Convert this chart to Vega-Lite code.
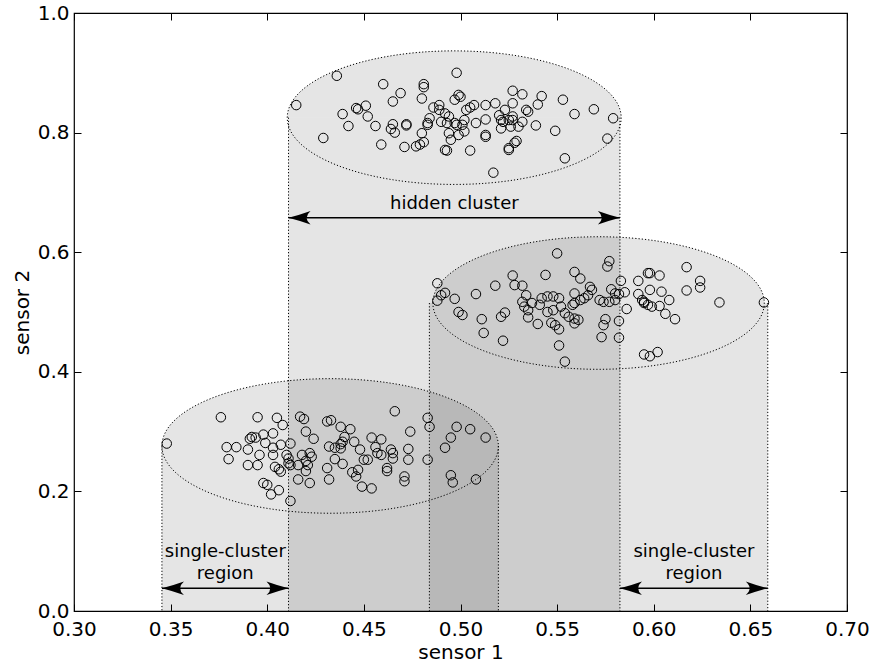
{
  "$schema": "https://vega.github.io/schema/vega-lite/v6.json",
  "width": 773,
  "height": 598,
  "autosize": {"type": "none"},
  "padding": {"left": 74, "top": 13, "right": 27, "bottom": 53},
  "background": "white",
  "config": {
    "font": "DejaVu Sans",
    "view": {"stroke": "black", "strokeWidth": 1.2},
    "axis": {"grid": false, "domain": false, "labelFlush": false, "labelOverlap": false, "labelBound": false, "tickColor": "black", "labelColor": "black", "titleColor": "black", "tickWidth": 1}
  },
  "resolve": {"axis": {"x": "independent", "y": "independent"}},
  "datasets": {
    "cyl": [
      {"name": "A", "xl": 0.3455, "xr": 0.5196, "xc": 0.43255, "yc": 0.276},
      {"name": "B", "xl": 0.411, "xr": 0.5825, "xc": 0.49675, "yc": 0.825},
      {"name": "C", "xl": 0.4839, "xr": 0.659, "xc": 0.57145, "yc": 0.515}
    ],
    "arrows": [
      {"x1": 0.411, "x2": 0.5825, "y": 0.6577},
      {"x1": 0.3455, "x2": 0.411, "y": 0.038},
      {"x1": 0.5825, "x2": 0.659, "y": 0.038}
    ],
    "labels": [
      {"t": "hidden cluster", "x": 0.4968, "y": 0.673},
      {"t": "single-cluster", "x": 0.3783, "y": 0.09},
      {"t": "region", "x": 0.3783, "y": 0.053},
      {"t": "single-cluster", "x": 0.6208, "y": 0.0905},
      {"t": "region", "x": 0.6208, "y": 0.0535}
    ],
    "pts": [
      {"x":0.436,"y":0.895},{"x":0.415,"y":0.846},{"x":0.460,"y":0.881},{"x":0.481,"y":0.881},{"x":0.481,"y":0.876},{"x":0.469,"y":0.866},{"x":0.465,"y":0.852},{"x":0.480,"y":0.857},{"x":0.451,"y":0.845},{"x":0.446,"y":0.841},{"x":0.447,"y":0.839},{"x":0.439,"y":0.831},{"x":0.452,"y":0.827},{"x":0.442,"y":0.811},{"x":0.456,"y":0.811},{"x":0.465,"y":0.814},{"x":0.464,"y":0.806},{"x":0.466,"y":0.800},{"x":0.472,"y":0.814},{"x":0.472,"y":0.812},{"x":0.429,"y":0.791},{"x":0.459,"y":0.780},{"x":0.471,"y":0.776},{"x":0.477,"y":0.777},{"x":0.479,"y":0.780},{"x":0.481,"y":0.784},{"x":0.480,"y":0.799},{"x":0.483,"y":0.813},{"x":0.483,"y":0.816},{"x":0.484,"y":0.824},{"x":0.486,"y":0.842},{"x":0.489,"y":0.846},{"x":0.489,"y":0.838},{"x":0.492,"y":0.832},{"x":0.494,"y":0.827},{"x":0.490,"y":0.818},{"x":0.493,"y":0.816},{"x":0.494,"y":0.799},{"x":0.495,"y":0.788},{"x":0.492,"y":0.771},{"x":0.493,"y":0.770},{"x":0.498,"y":0.900},{"x":0.497,"y":0.855},{"x":0.499,"y":0.863},{"x":0.500,"y":0.860},{"x":0.527,"y":0.870},{"x":0.532,"y":0.864},{"x":0.542,"y":0.861},{"x":0.540,"y":0.847},{"x":0.518,"y":0.849},{"x":0.513,"y":0.846},{"x":0.507,"y":0.846},{"x":0.505,"y":0.842},{"x":0.503,"y":0.838},{"x":0.527,"y":0.849},{"x":0.523,"y":0.838},{"x":0.534,"y":0.838},{"x":0.535,"y":0.835},{"x":0.553,"y":0.855},{"x":0.559,"y":0.831},{"x":0.569,"y":0.839},{"x":0.579,"y":0.824},{"x":0.513,"y":0.822},{"x":0.508,"y":0.816},{"x":0.502,"y":0.821},{"x":0.501,"y":0.813},{"x":0.498,"y":0.813},{"x":0.497,"y":0.816},{"x":0.520,"y":0.829},{"x":0.521,"y":0.821},{"x":0.522,"y":0.818},{"x":0.525,"y":0.821},{"x":0.527,"y":0.827},{"x":0.527,"y":0.821},{"x":0.532,"y":0.818},{"x":0.521,"y":0.807},{"x":0.526,"y":0.810},{"x":0.530,"y":0.810},{"x":0.539,"y":0.812},{"x":0.549,"y":0.803},{"x":0.502,"y":0.802},{"x":0.499,"y":0.796},{"x":0.513,"y":0.796},{"x":0.513,"y":0.793},{"x":0.529,"y":0.786},{"x":0.528,"y":0.783},{"x":0.525,"y":0.774},{"x":0.525,"y":0.771},{"x":0.505,"y":0.770},{"x":0.576,"y":0.790},{"x":0.554,"y":0.757},{"x":0.517,"y":0.733},
      {"x":0.550,"y":0.598},{"x":0.488,"y":0.548},{"x":0.492,"y":0.532},{"x":0.490,"y":0.528},{"x":0.488,"y":0.519},{"x":0.497,"y":0.522},{"x":0.508,"y":0.530},{"x":0.518,"y":0.544},{"x":0.527,"y":0.561},{"x":0.528,"y":0.545},{"x":0.532,"y":0.544},{"x":0.544,"y":0.562},{"x":0.559,"y":0.567},{"x":0.562,"y":0.556},{"x":0.567,"y":0.542},{"x":0.568,"y":0.537},{"x":0.534,"y":0.528},{"x":0.499,"y":0.500},{"x":0.501,"y":0.495},{"x":0.511,"y":0.488},{"x":0.523,"y":0.499},{"x":0.521,"y":0.492},{"x":0.512,"y":0.465},{"x":0.522,"y":0.452},{"x":0.532,"y":0.517},{"x":0.533,"y":0.509},{"x":0.537,"y":0.515},{"x":0.535,"y":0.503},{"x":0.535,"y":0.491},{"x":0.540,"y":0.480},{"x":0.542,"y":0.523},{"x":0.545,"y":0.526},{"x":0.548,"y":0.526},{"x":0.551,"y":0.523},{"x":0.541,"y":0.512},{"x":0.545,"y":0.500},{"x":0.548,"y":0.503},{"x":0.552,"y":0.509},{"x":0.547,"y":0.482},{"x":0.549,"y":0.478},{"x":0.551,"y":0.471},{"x":0.554,"y":0.498},{"x":0.556,"y":0.492},{"x":0.558,"y":0.512},{"x":0.559,"y":0.515},{"x":0.562,"y":0.520},{"x":0.564,"y":0.523},{"x":0.566,"y":0.528},{"x":0.559,"y":0.531},{"x":0.559,"y":0.489},{"x":0.561,"y":0.487},{"x":0.559,"y":0.481},{"x":0.551,"y":0.444},{"x":0.554,"y":0.417},{"x":0.572,"y":0.520},
      {"x":0.577,"y":0.585},{"x":0.576,"y":0.576},{"x":0.617,"y":0.575},{"x":0.597,"y":0.565},{"x":0.598,"y":0.565},{"x":0.603,"y":0.561},{"x":0.583,"y":0.552},{"x":0.592,"y":0.552},{"x":0.624,"y":0.552},{"x":0.624,"y":0.541},{"x":0.617,"y":0.536},{"x":0.604,"y":0.534},{"x":0.598,"y":0.537},{"x":0.578,"y":0.538},{"x":0.580,"y":0.531},{"x":0.582,"y":0.530},{"x":0.585,"y":0.533},{"x":0.574,"y":0.517},{"x":0.577,"y":0.517},{"x":0.580,"y":0.520},{"x":0.592,"y":0.530},{"x":0.594,"y":0.520},{"x":0.595,"y":0.517},{"x":0.595,"y":0.515},{"x":0.597,"y":0.512},{"x":0.608,"y":0.520},{"x":0.599,"y":0.509},{"x":0.603,"y":0.510},{"x":0.634,"y":0.516},{"x":0.657,"y":0.516},{"x":0.586,"y":0.505},{"x":0.606,"y":0.497},{"x":0.611,"y":0.488},{"x":0.575,"y":0.488},{"x":0.574,"y":0.478},{"x":0.582,"y":0.485},{"x":0.573,"y":0.458},{"x":0.582,"y":0.457},{"x":0.595,"y":0.429},{"x":0.598,"y":0.426},{"x":0.602,"y":0.433},
      {"x":0.348,"y":0.280},{"x":0.376,"y":0.324},{"x":0.395,"y":0.324},{"x":0.405,"y":0.323},{"x":0.408,"y":0.311},{"x":0.417,"y":0.325},{"x":0.419,"y":0.321},{"x":0.420,"y":0.300},{"x":0.424,"y":0.288},{"x":0.403,"y":0.297},{"x":0.398,"y":0.295},{"x":0.392,"y":0.291},{"x":0.391,"y":0.288},{"x":0.394,"y":0.290},{"x":0.399,"y":0.281},{"x":0.379,"y":0.274},{"x":0.384,"y":0.274},{"x":0.390,"y":0.270},{"x":0.407,"y":0.278},{"x":0.412,"y":0.280},{"x":0.403,"y":0.273},{"x":0.396,"y":0.261},{"x":0.403,"y":0.261},{"x":0.380,"y":0.254},{"x":0.390,"y":0.244},{"x":0.395,"y":0.244},{"x":0.410,"y":0.261},{"x":0.411,"y":0.255},{"x":0.411,"y":0.247},{"x":0.412,"y":0.244},{"x":0.418,"y":0.261},{"x":0.422,"y":0.264},{"x":0.423,"y":0.258},{"x":0.420,"y":0.251},{"x":0.416,"y":0.244},{"x":0.421,"y":0.244},{"x":0.404,"y":0.241},{"x":0.406,"y":0.237},{"x":0.407,"y":0.233},{"x":0.420,"y":0.234},{"x":0.416,"y":0.220},{"x":0.422,"y":0.214},{"x":0.398,"y":0.214},{"x":0.400,"y":0.211},{"x":0.402,"y":0.195},{"x":0.406,"y":0.202},{"x":0.412,"y":0.184},
      {"x":0.466,"y":0.334},{"x":0.433,"y":0.319},{"x":0.431,"y":0.317},{"x":0.438,"y":0.308},{"x":0.443,"y":0.304},{"x":0.483,"y":0.323},{"x":0.484,"y":0.308},{"x":0.474,"y":0.300},{"x":0.498,"y":0.308},{"x":0.505,"y":0.304},{"x":0.513,"y":0.290},{"x":0.495,"y":0.290},{"x":0.492,"y":0.273},{"x":0.440,"y":0.291},{"x":0.439,"y":0.283},{"x":0.454,"y":0.290},{"x":0.459,"y":0.287},{"x":0.445,"y":0.283},{"x":0.432,"y":0.275},{"x":0.435,"y":0.273},{"x":0.438,"y":0.272},{"x":0.438,"y":0.279},{"x":0.448,"y":0.270},{"x":0.456,"y":0.274},{"x":0.457,"y":0.264},{"x":0.459,"y":0.261},{"x":0.464,"y":0.270},{"x":0.465,"y":0.264},{"x":0.465,"y":0.255},{"x":0.473,"y":0.271},{"x":0.473,"y":0.253},{"x":0.483,"y":0.253},{"x":0.435,"y":0.254},{"x":0.439,"y":0.246},{"x":0.450,"y":0.253},{"x":0.452,"y":0.253},{"x":0.462,"y":0.239},{"x":0.462,"y":0.234},{"x":0.444,"y":0.232},{"x":0.446,"y":0.225},{"x":0.447,"y":0.236},{"x":0.431,"y":0.239},{"x":0.432,"y":0.220},{"x":0.449,"y":0.208},{"x":0.454,"y":0.205},{"x":0.471,"y":0.225},{"x":0.471,"y":0.217},{"x":0.495,"y":0.227},{"x":0.496,"y":0.215},{"x":0.508,"y":0.220}
    ]
  },
  "layer": [
    {
      "data": {"name": "cyl"},
      "mark": {"type": "rect", "fill": "black", "fillOpacity": 0.1, "strokeWidth": 0},
      "encoding": {
        "x": {"field": "xl", "type": "quantitative", "scale": {"domain": [0.3, 0.7], "nice": false, "zero": false},
              "axis": {"orient": "top", "values": [0.3, 0.35, 0.4, 0.45, 0.5, 0.55, 0.6, 0.65, 0.7], "labels": false, "title": null, "tickSize": -7}},
        "x2": {"field": "xr"},
        "y": {"field": "yc", "type": "quantitative", "scale": {"domain": [0, 1], "nice": false, "zero": false},
              "axis": {"orient": "right", "values": [0, 0.2, 0.4, 0.6, 0.8, 1.0], "labels": false, "title": null, "tickSize": -7}},
        "y2": {"datum": 0}
      }
    },
    {
      "data": {"name": "cyl"},
      "mark": {"type": "point", "shape": "M -1 0 A 1 0.4 0 0 1 1 0 Z", "filled": true, "fill": "black", "fillOpacity": 0.1, "strokeWidth": 0, "opacity": 1},
      "encoding": {
        "x": {"field": "xc", "type": "quantitative", "scale": {"domain": [0.3, 0.7], "nice": false, "zero": false}, "axis": null},
        "y": {"field": "yc", "type": "quantitative", "scale": {"domain": [0, 1], "nice": false, "zero": false}, "axis": null},
        "size": {"field": "name", "type": "ordinal", "scale": {"domain": ["A", "B", "C"], "range": [113165, 109826, 114515]}, "legend": null}
      }
    },
    {
      "data": {"name": "cyl"},
      "mark": {"type": "rule", "stroke": "black", "strokeWidth": 1, "strokeDash": [1.2, 2]},
      "encoding": {
        "x": {"field": "xl", "type": "quantitative", "scale": {"domain": [0.3, 0.7], "nice": false, "zero": false}, "axis": null},
        "y": {"field": "yc", "type": "quantitative", "scale": {"domain": [0, 1], "nice": false, "zero": false}, "axis": null},
        "y2": {"datum": 0}
      }
    },
    {
      "data": {"name": "cyl"},
      "mark": {"type": "rule", "stroke": "black", "strokeWidth": 1, "strokeDash": [1.2, 2]},
      "encoding": {
        "x": {"field": "xr", "type": "quantitative", "scale": {"domain": [0.3, 0.7], "nice": false, "zero": false}, "axis": null},
        "y": {"field": "yc", "type": "quantitative", "scale": {"domain": [0, 1], "nice": false, "zero": false}, "axis": null},
        "y2": {"datum": 0}
      }
    },
    {
      "data": {"name": "cyl"},
      "mark": {"type": "point", "shape": "M -1 0 A 1 0.4 0 0 1 1 0 A 1 0.4 0 0 1 -1 0 Z", "filled": false, "stroke": "black", "strokeWidth": 1, "strokeDash": [1.2, 2], "opacity": 1},
      "encoding": {
        "x": {"field": "xc", "type": "quantitative", "scale": {"domain": [0.3, 0.7], "nice": false, "zero": false}, "axis": null},
        "y": {"field": "yc", "type": "quantitative", "scale": {"domain": [0, 1], "nice": false, "zero": false}, "axis": null},
        "size": {"field": "name", "type": "ordinal", "scale": {"domain": ["A", "B", "C"], "range": [113165, 109826, 114515]}, "legend": null}
      }
    },
    {
      "data": {"name": "pts"},
      "mark": {"type": "point", "shape": "circle", "filled": false, "stroke": "black", "strokeWidth": 1, "size": 90, "opacity": 1},
      "encoding": {
        "x": {"field": "x", "type": "quantitative", "scale": {"domain": [0.3, 0.7], "nice": false, "zero": false},
              "axis": {"orient": "bottom", "values": [0.3, 0.35, 0.4, 0.45, 0.5, 0.55, 0.6, 0.65, 0.7], "format": ".2f", "tickSize": -7, "labelPadding": 15, "labelFontSize": 20, "title": "sensor 1", "titleFontSize": 20, "titleFontWeight": "normal", "titlePadding": 3}},
        "y": {"field": "y", "type": "quantitative", "scale": {"domain": [0, 1], "nice": false, "zero": false},
              "axis": {"orient": "left", "values": [0, 0.2, 0.4, 0.6, 0.8, 1.0], "format": ".1f", "tickSize": -7, "labelPadding": 12, "labelFontSize": 20, "title": "sensor 2", "titleFontSize": 20, "titleFontWeight": "normal", "titlePadding": 5}}
      }
    },
    {
      "data": {"name": "arrows"},
      "mark": {"type": "rule", "stroke": "black", "strokeWidth": 1.4},
      "encoding": {
        "x": {"field": "x1", "type": "quantitative", "scale": {"domain": [0.3, 0.7], "nice": false, "zero": false}, "axis": null},
        "x2": {"field": "x2"},
        "y": {"field": "y", "type": "quantitative", "scale": {"domain": [0, 1], "nice": false, "zero": false}, "axis": null}
      }
    },
    {
      "data": {"name": "arrows"},
      "mark": {"type": "point", "shape": "M 0 0 Q 1 -0.26 2 -0.62 Q 1.3 0 2 0.62 Q 1 0.26 0 0 Z", "filled": true, "fill": "black", "strokeWidth": 0, "size": 484, "opacity": 1},
      "encoding": {
        "x": {"field": "x1", "type": "quantitative", "scale": {"domain": [0.3, 0.7], "nice": false, "zero": false}, "axis": null},
        "y": {"field": "y", "type": "quantitative", "scale": {"domain": [0, 1], "nice": false, "zero": false}, "axis": null}
      }
    },
    {
      "data": {"name": "arrows"},
      "mark": {"type": "point", "shape": "M 0 0 Q -1 -0.26 -2 -0.62 Q -1.3 0 -2 0.62 Q -1 0.26 0 0 Z", "filled": true, "fill": "black", "strokeWidth": 0, "size": 484, "opacity": 1},
      "encoding": {
        "x": {"field": "x2", "type": "quantitative", "scale": {"domain": [0.3, 0.7], "nice": false, "zero": false}, "axis": null},
        "y": {"field": "y", "type": "quantitative", "scale": {"domain": [0, 1], "nice": false, "zero": false}, "axis": null}
      }
    },
    {
      "data": {"name": "labels"},
      "mark": {"type": "text", "fontSize": 18, "align": "center", "baseline": "alphabetic", "color": "black"},
      "encoding": {
        "x": {"field": "x", "type": "quantitative", "scale": {"domain": [0.3, 0.7], "nice": false, "zero": false}, "axis": null},
        "y": {"field": "y", "type": "quantitative", "scale": {"domain": [0, 1], "nice": false, "zero": false}, "axis": null},
        "text": {"field": "t"}
      }
    }
  ]
}
